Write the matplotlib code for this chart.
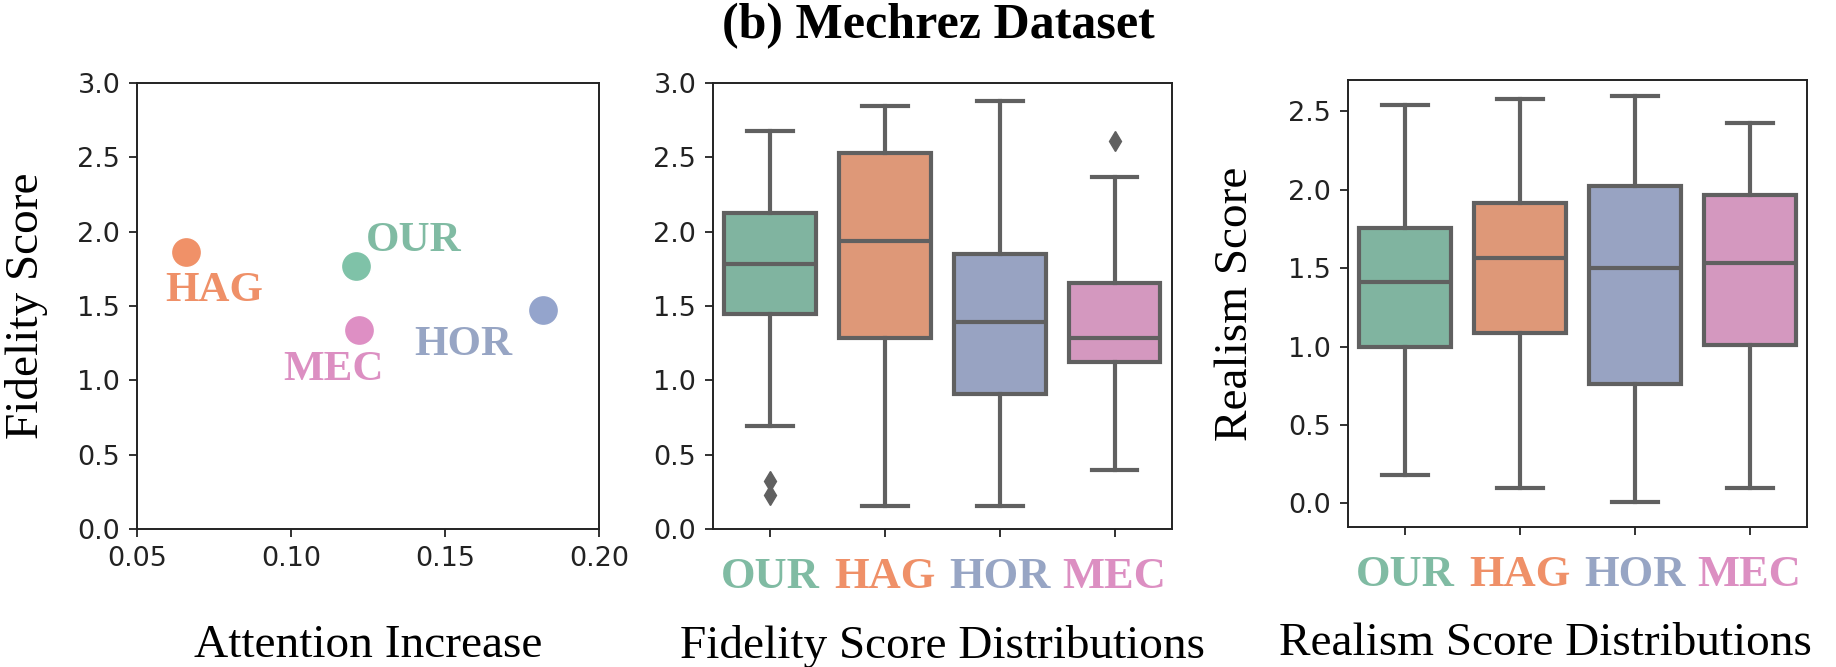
import matplotlib
matplotlib.use("Agg")
import matplotlib.pyplot as plt

# Methods and per-method results
methods = ["OUR", "HAG", "HOR", "MEC"]
attention_increase = [0.121, 0.066, 0.182, 0.122]
fidelity_score = [1.77, 1.86, 1.47, 1.34]

# Fidelity box stats: low whisker, q1, median, q3, high whisker, outliers
fid_whislo = [0.69, 0.158, 0.158, 0.399]
fid_q1 = [1.445, 1.288, 0.911, 1.12]
fid_med = [1.78, 1.94, 1.394, 1.282]
fid_q3 = [2.124, 2.528, 1.85, 1.652]
fid_whishi = [2.68, 2.843, 2.881, 2.367]
fid_fliers = [[0.32, 0.23], [], [], [2.613]]

# Realism box stats
real_whislo = [0.181, 0.098, 0.01, 0.098]
real_q1 = [0.995, 1.084, 0.761, 1.013]
real_med = [1.409, 1.565, 1.50, 1.530]
real_q3 = [1.757, 1.915, 2.021, 1.966]
real_whishi = [2.543, 2.581, 2.596, 2.424]
real_fliers = [[], [], [], []]

SERIF = "Liberation Serif"
# Set2-like colours as they appear in the figure
dot_colors = ["#7fc2a8", "#f09168", "#94a4cc", "#de8fc4"]
text_colors = ["#80bba3", "#ef9068", "#97a5c4", "#dc8fc2"]
box_colors = ["#80b4a0", "#de9878", "#98a3c2", "#d498bf"]
gray = "#606060"

# label offsets (points) from each scatter dot
label_off = {"OUR": (42, 18), "HAG": (20, -28), "HOR": (-58, -25), "MEC": (-18, -29)}

fig = plt.figure(figsize=(18.36, 6.67), dpi=100)
ax1 = fig.add_axes([0.0746, 0.2069, 0.2516, 0.6687])
ax2 = fig.add_axes([0.3883, 0.2069, 0.2500, 0.6687])
ax3 = fig.add_axes([0.7342, 0.2099, 0.2500, 0.6702])

for ax in (ax1, ax2, ax3):
    for s in ax.spines.values():
        s.set_linewidth(1.4)
        s.set_color("#222222")
    ax.tick_params(labelsize=19.5, length=6, width=1.3, pad=6, colors="#222222")

# scatter panel
for i, m in enumerate(methods):
    ax1.scatter(attention_increase[i], fidelity_score[i], s=470, color=dot_colors[i],
                edgecolor="white", linewidth=1, zorder=3)
    ax1.annotate(m, (attention_increase[i], fidelity_score[i]), xytext=label_off[m],
                 textcoords="offset points", ha="center", va="center",
                 fontsize=31, fontweight="bold", family=SERIF, color=text_colors[i])
ax1.set_xlim(0.05, 0.20)
ax1.set_ylim(0, 3)
ax1.set_xticks([0.05, 0.10, 0.15, 0.20])
ax1.set_xticklabels(["0.05", "0.10", "0.15", "0.20"])
ax1.set_yticks([0, 0.5, 1.0, 1.5, 2.0, 2.5, 3.0])
ax1.set_xlabel("Attention Increase", family=SERIF, fontsize=34)
ax1.set_ylabel("Fidelity Score", family=SERIF, fontsize=34)


def draw_boxes(ax, lo, q1, med, q3, hi, fl):
    stats = []
    for i, m in enumerate(methods):
        stats.append(dict(label=m, whislo=lo[i], q1=q1[i], med=med[i], q3=q3[i],
                          whishi=hi[i], fliers=fl[i]))
    bp = ax.bxp(stats, positions=range(len(methods)), widths=0.8, patch_artist=True,
                capwidths=0.4,
                boxprops=dict(linewidth=3, edgecolor=gray),
                medianprops=dict(linewidth=3, color=gray),
                whiskerprops=dict(linewidth=3, color=gray),
                capprops=dict(linewidth=3, color=gray),
                flierprops=dict(marker="d", markersize=10, markerfacecolor=gray,
                                markeredgecolor=gray))
    for patch, c in zip(bp["boxes"], box_colors):
        patch.set_facecolor(c)
    ax.set_xlim(-0.5, len(methods) - 0.5)
    ax.set_xticks(range(len(methods)))
    ax.set_xticklabels(methods, family=SERIF, fontsize=32, fontweight="bold")
    for lab, c in zip(ax.get_xticklabels(), text_colors):
        lab.set_color(c)
    ax.tick_params(axis="x", pad=14)


draw_boxes(ax2, fid_whislo, fid_q1, fid_med, fid_q3, fid_whishi, fid_fliers)
ax2.set_ylim(0, 3)
ax2.set_yticks([0, 0.5, 1.0, 1.5, 2.0, 2.5, 3.0])
ax2.set_xlabel("Fidelity Score Distributions", family=SERIF, fontsize=34)

draw_boxes(ax3, real_whislo, real_q1, real_med, real_q3, real_whishi, real_fliers)
ax3.set_ylim(-0.15, 2.70)
ax3.set_yticks([0, 0.5, 1.0, 1.5, 2.0, 2.5])
ax3.set_xlabel("Realism Score Distributions", family=SERIF, fontsize=34)
ax3.set_ylabel("Realism Score", family=SERIF, fontsize=34)

# line up axis labels like the reference
for ax, h, cx in ((ax1, 446, 0.5), (ax2, 446, 0.5), (ax3, 447, 0.43)):
    ax.xaxis.label.set_va("center")
    ax.xaxis.set_label_coords(cx, -117 / h)
ax1.yaxis.label.set_va("center")
ax1.yaxis.set_label_coords(-0.240, 0.5)
ax3.yaxis.label.set_va("center")
ax3.yaxis.set_label_coords(-0.244, 0.5)

fig.text(0.511, 0.961, "(b) Mechrez Dataset", ha="center", va="center",
         family=SERIF, fontsize=36, fontweight="bold")

fig.savefig("out.png", dpi=100)
